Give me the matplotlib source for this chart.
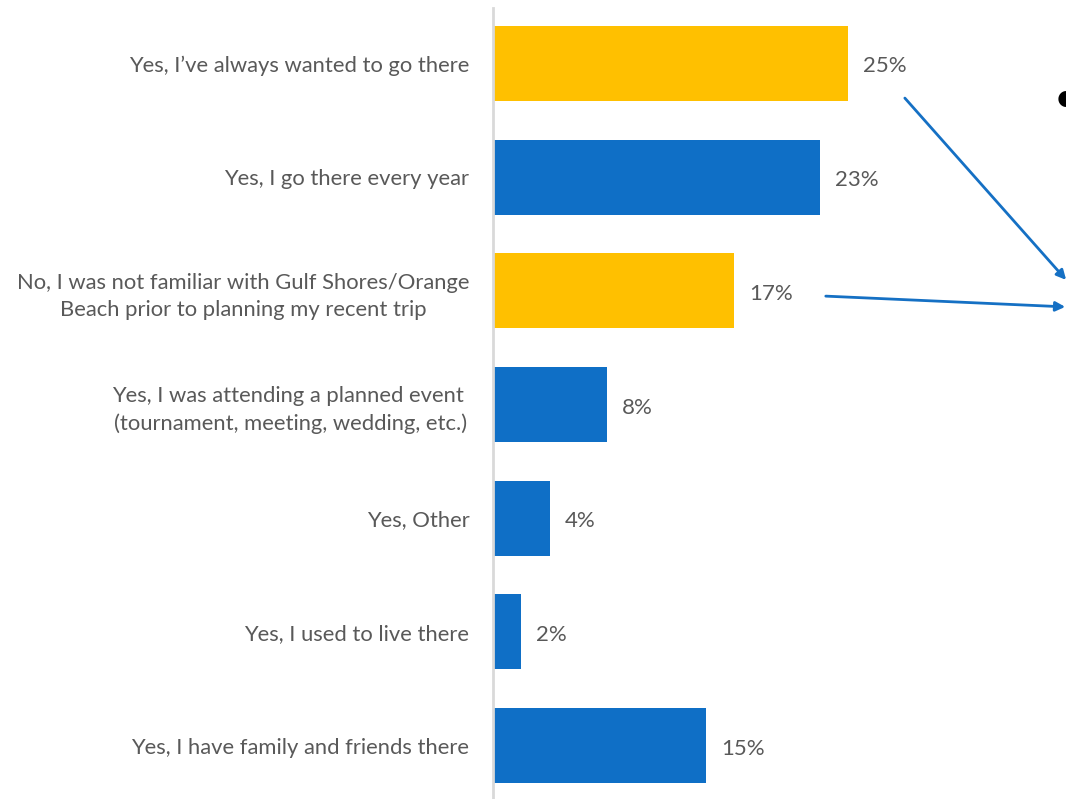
import matplotlib.pyplot as plt

categories = [
    "Yes, I\u2019ve always wanted to go there",
    "Yes, I go there every year",
    "No, I was not familiar with Gulf Shores/Orange\nBeach prior to planning my recent trip",
    "Yes, I was attending a planned event \n(tournament, meeting, wedding, etc.)",
    "Yes, Other",
    "Yes, I used to live there",
    "Yes, I have family and friends there",
]
values = [25, 23, 17, 8, 4, 2, 15]
highlight = [True, False, True, False, False, False, False]

BLUE = "#0F6FC6"
YELLOW = "#FFC000"
TEXT = "#595959"
W, H = 1066, 799

plt.rcParams["font.family"] = ["Lato", "DejaVu Sans"]

fig = plt.figure(figsize=(W / 100, H / 100), dpi=100)
ax = fig.add_axes([493 / W, 0, (W - 493) / W, 1 - 8 / H])

colors = [YELLOW if h else BLUE for h in highlight]
ypos = list(range(len(values)))
ax.barh(ypos, values, height=0.66, color=colors)

ax.set_xlim(0, (W - 493) / 14.2)
ax.set_ylim(6.47, -0.488)

for y, v in zip(ypos, values):
    ax.annotate(f"{v}%", (v, y), xytext=(15, -3), textcoords="offset pixels",
                va="center", ha="left", fontsize=16, color=TEXT)

ax.set_yticks(ypos)
ax.set_yticklabels(categories, fontsize=15.8, color=TEXT, ha="right",
                   multialignment="center", linespacing=1.45)
ax.tick_params(axis="y", length=0, pad=17)
ax.set_xticks([])

for side in ["top", "right", "bottom"]:
    ax.spines[side].set_visible(False)
ax.spines["left"].set_color("#D9D9D9")
ax.spines["left"].set_linewidth(2)

# callout arrows pointing off to the right-hand text
arrow_style = dict(arrowstyle="-|>", color="#1570C4", lw=2, mutation_scale=14)
ax.annotate("", xy=(1068 / W, 1 - 282 / H), xytext=(903 / W, 1 - 96 / H),
            xycoords="figure fraction", textcoords="figure fraction",
            arrowprops=arrow_style, annotation_clip=False)
ax.annotate("", xy=(1068 / W, 1 - 307 / H), xytext=(823 / W, 1 - 296 / H),
            xycoords="figure fraction", textcoords="figure fraction",
            arrowprops=arrow_style, annotation_clip=False)

fig.text(1054 / W, 1 - 100 / H, "\u2022", fontsize=30, color="black",
         va="center", ha="left")

fig.savefig("out.png", dpi=100, facecolor="white")
